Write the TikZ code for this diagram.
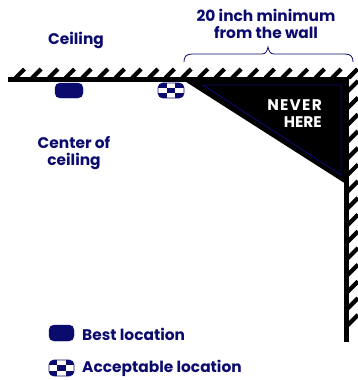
\documentclass[tikz,border=0pt]{standalone}
\usepackage{fontspec}
\setmainfont{Poppins}
\definecolor{navy}{HTML}{0B0B6E}
\tikzset{
  lbl/.style={text=navy,font=\fontsize{15.4}{16.8}\selectfont\bfseries,align=center,inner sep=0pt},
  hatchline/.style={line width=4.2pt,black},
  wallline/.style={line width=5pt,black},
}
\newcommand{\chk}[4]{% x0 y0 x1 y1
  \pgfmathsetmacro{\cw}{(#3-#1)/3}\pgfmathsetmacro{\ch}{(#4-#2)/3}
  \begin{scope}
    \clip[rounded corners=5pt] (#1,#2) rectangle (#3,#4);
    \foreach \i/\j in {0/0,2/0,1/1,0/2,2/2}{
      \fill[navy] ({#1+\i*\cw},{#2+\j*\ch}) rectangle ++(\cw,\ch);
    }
  \end{scope}
  \draw[navy,line width=0.8pt,rounded corners=5pt] (#1,#2) rectangle (#3,#4);
}
\begin{document}
\begin{tikzpicture}[x=1pt,y=-1pt]
\useasboundingbox (0,0) rectangle (358,380);
% never-here triangle
\fill[black] (183,80) -- (349,80) -- (346,184) -- cycle;
\draw[navy,line width=0.9pt,line join=miter] (203,85) -- (341,85) -- (341,175) -- cycle;
% ceiling and wall
\draw[wallline] (8,79.5) -- (349,79.5);
\draw[wallline] (346,78) -- (346,342);
\begin{scope}
\clip (0,0) rectangle (358,380);
\foreach \x in {0,...,20}{
  \draw[hatchline] ({15.5+\x*16.66},78) -- ({24.5+\x*16.66},69);
}
\foreach \y in {0,...,14}{
  \draw[hatchline] (347,{92+\y*16.7}) -- (358,{81+\y*16.7});
}
\end{scope}
% brace
\draw[navy,line width=0.8pt] (184,62) .. controls (184,57) and (186,54) .. (192,54)
  -- (262,54) .. controls (266,54) and (267,51) .. (268,47)
  .. controls (269,51) and (270,54) .. (274,54)
  -- (345,54) .. controls (351,54) and (353,57) .. (353,62);
% location marks
\node[fill=navy,draw=navy,rounded corners=5pt,minimum width=28pt,minimum height=15pt,inner sep=0pt] (best) at (69,90.5) {};
\chk{158}{83}{184}{98}
\node[fill=navy,draw=navy,rounded corners=5pt,minimum width=25pt,minimum height=16pt,inner sep=0pt] (legendbest) at (61.5,333) {};
\chk{49}{360}{74}{376}
% labels
\node[lbl] (ceiling) at (76,40) {Ceiling};
\node[lbl] (center) at (74,153) {Center of\\ceiling};
\node[lbl] (min) at (266,23.5) {20 inch minimum\\from the wall};
\node[lbl,text=white,align=right,anchor=east] (never) at (322,113.5) {\addfontfeatures{LetterSpace=8}NEVER\\HERE};
\node[lbl,anchor=west] (lb) at (82,334) {Best location};
\node[lbl,anchor=west] (la) at (82,368.5) {Acceptable location};
\end{tikzpicture}
\end{document}
